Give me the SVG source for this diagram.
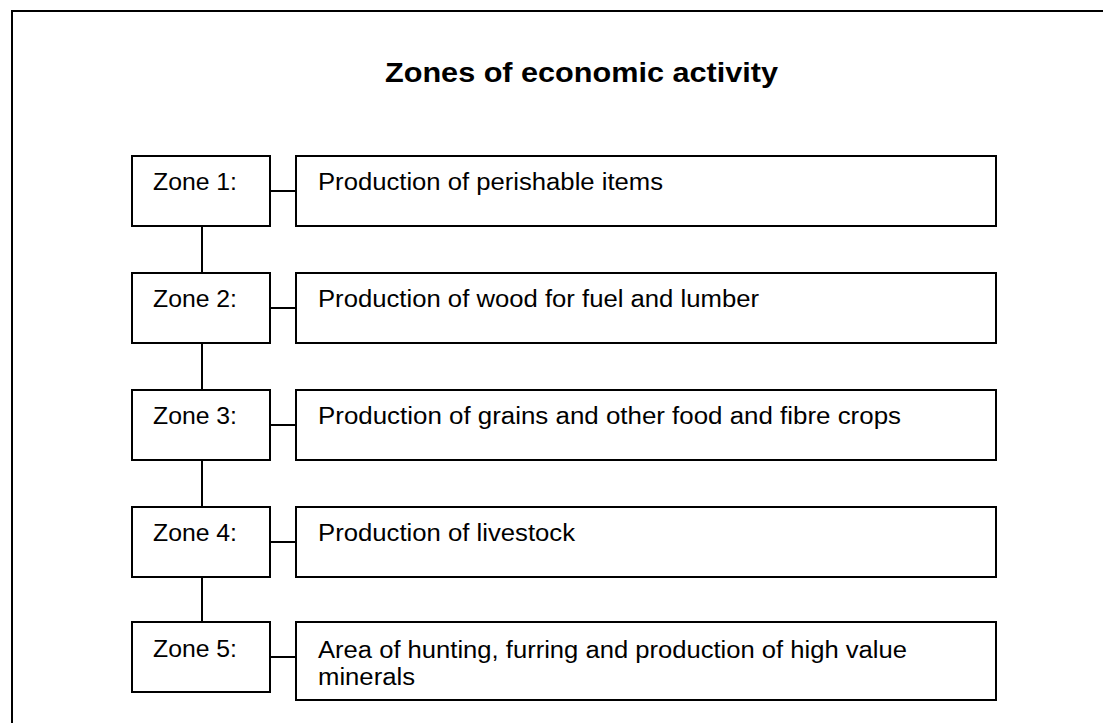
<svg xmlns="http://www.w3.org/2000/svg" width="1103" height="723" viewBox="0 0 1103 723">
  <style>
    .frame { fill: none; stroke: #000; stroke-width: 2; }
    .box { fill: #fff; stroke: #000; stroke-width: 2; }
    .link { fill: none; stroke: #000; stroke-width: 2; }
    .title { font-family: "Liberation Sans", Arial, sans-serif; font-weight: bold; font-size: 28px; fill: #000; }
    .label { font-family: "Liberation Sans", Arial, sans-serif; font-size: 23px; fill: #000; }
  </style>
  <rect width="1103" height="723" fill="#fff"/>

  <!-- outer frame: top and left edges only -->
  <path class="frame" d="M12,723 V11 H1103"/>

  <text class="title" x="385" y="82" textLength="393" lengthAdjust="spacingAndGlyphs">Zones of economic activity</text>

  <!-- connectors -->
  <g id="connectors">
    <path class="link" d="M270,191 H296"/>
    <path class="link" d="M270,308 H296"/>
    <path class="link" d="M270,425 H296"/>
    <path class="link" d="M270,542 H296"/>
    <path class="link" d="M270,657 H296"/>
    <path class="link" d="M202,226 V273"/>
    <path class="link" d="M202,343 V390"/>
    <path class="link" d="M202,460 V507"/>
    <path class="link" d="M202,577 V622"/>
  </g>

  <g id="zone1">
    <rect class="box" x="132" y="156" width="138" height="70"/>
    <text class="label" x="153" y="190" textLength="84" lengthAdjust="spacingAndGlyphs">Zone 1:</text>
  </g>
  <g id="desc1">
    <rect class="box" x="296" y="156" width="700" height="70"/>
    <text class="label" x="318" y="190" textLength="345" lengthAdjust="spacingAndGlyphs">Production of perishable items</text>
  </g>

  <g id="zone2">
    <rect class="box" x="132" y="273" width="138" height="70"/>
    <text class="label" x="153" y="307" textLength="84" lengthAdjust="spacingAndGlyphs">Zone 2:</text>
  </g>
  <g id="desc2">
    <rect class="box" x="296" y="273" width="700" height="70"/>
    <text class="label" x="318" y="307" textLength="441" lengthAdjust="spacingAndGlyphs">Production of wood for fuel and lumber</text>
  </g>

  <g id="zone3">
    <rect class="box" x="132" y="390" width="138" height="70"/>
    <text class="label" x="153" y="424" textLength="84" lengthAdjust="spacingAndGlyphs">Zone 3:</text>
  </g>
  <g id="desc3">
    <rect class="box" x="296" y="390" width="700" height="70"/>
    <text class="label" x="318" y="424" textLength="583" lengthAdjust="spacingAndGlyphs">Production of grains and other food and fibre crops</text>
  </g>

  <g id="zone4">
    <rect class="box" x="132" y="507" width="138" height="70"/>
    <text class="label" x="153" y="541" textLength="84" lengthAdjust="spacingAndGlyphs">Zone 4:</text>
  </g>
  <g id="desc4">
    <rect class="box" x="296" y="507" width="700" height="70"/>
    <text class="label" x="318" y="541" textLength="257" lengthAdjust="spacingAndGlyphs">Production of livestock</text>
  </g>

  <g id="zone5">
    <rect class="box" x="132" y="622" width="138" height="70"/>
    <text class="label" x="153" y="657" textLength="84" lengthAdjust="spacingAndGlyphs">Zone 5:</text>
  </g>
  <g id="desc5">
    <rect class="box" x="296" y="622" width="700" height="78"/>
    <text class="label" x="318" y="658" textLength="589" lengthAdjust="spacingAndGlyphs">Area of hunting, furring and production of high value</text>
    <text class="label" x="318" y="685" textLength="97" lengthAdjust="spacingAndGlyphs">minerals</text>
  </g>
</svg>
